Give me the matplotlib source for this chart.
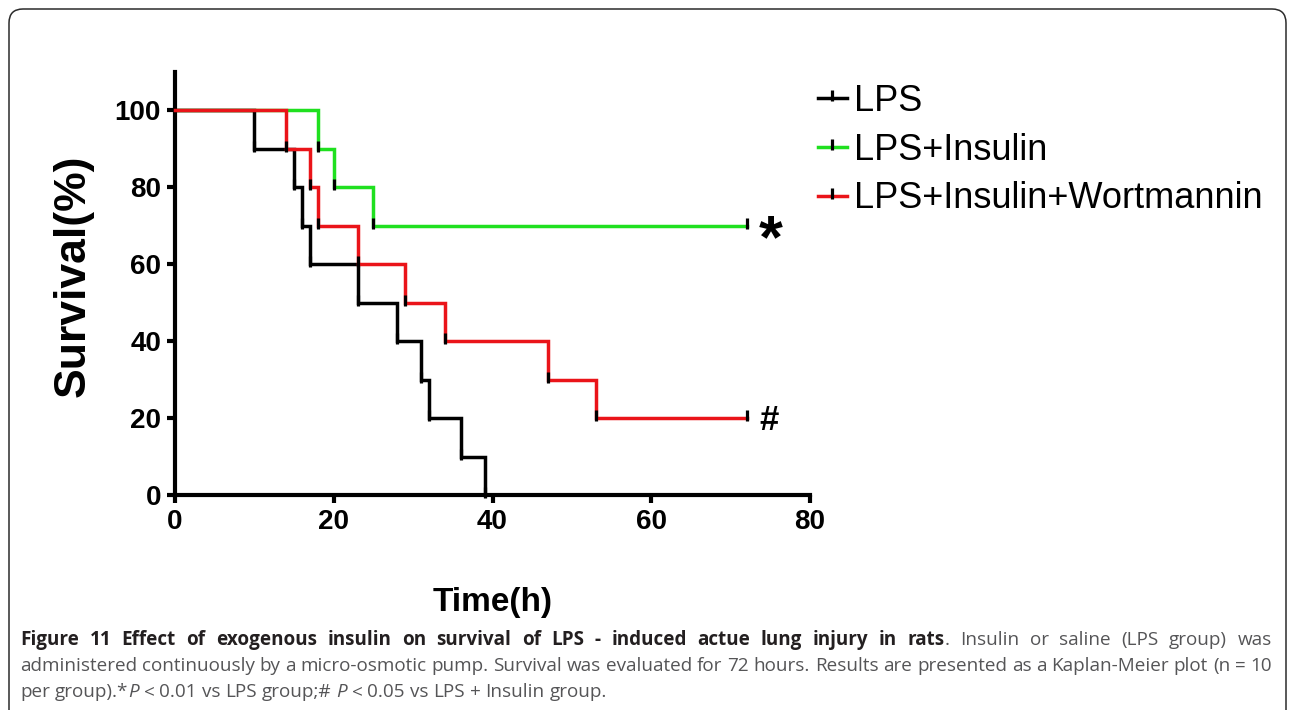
import matplotlib

matplotlib.use("Agg")
import matplotlib.pyplot as plt
from matplotlib.patches import FancyBboxPatch
from matplotlib.path import Path
from matplotlib.transforms import IdentityTransform

# Kaplan-Meier steps (time in h, survival in %)
lps_time = [0, 10, 15, 16, 17, 23, 28, 31, 32, 36, 39]
lps_surv = [100, 90, 80, 70, 60, 50, 40, 30, 20, 10, 0]
ins_time = [0, 18, 20, 25, 72]
ins_surv = [100, 90, 80, 70, 70]
wort_time = [0, 14, 17, 18, 23, 29, 34, 47, 53, 72]
wort_surv = [100, 90, 80, 70, 60, 50, 40, 30, 20, 20]

group_labels = ["LPS", "LPS+Insulin", "LPS+Insulin+Wortmannin"]
group_colors = ["black", "#1fe01f", "#ea1419"]
x_ticks = [0, 20, 40, 60, 80]
y_ticks = [0, 20, 40, 60, 80, 100]

# caption runs: (style, text); b = bold, r = regular, i = italic
caption_lines = [
    [("b", "Figure 11 Effect of exogenous insulin on survival of LPS - induced actue lung injury in rats"),
     ("r", ". Insulin or saline (LPS group) was")],
    [("r", "administered continuously by a micro-osmotic pump. Survival was evaluated for 72 hours. "
           "Results are presented as a Kaplan-Meier plot (n = 10")],
    [("r", "per group).*"), ("i", "P"), ("r", " < 0.01 vs LPS group;# "), ("i", "P"),
     ("r", " < 0.05 vs LPS + Insulin group.")],
]

W, H = 1290, 710
plt.rcParams["font.family"] = ["Liberation Sans", "DejaVu Sans"]

fig = plt.figure(figsize=(W / 100, H / 100), dpi=100)
fig.patch.set_facecolor("white")

# rounded frame around the whole figure (bottom edge runs off the image)
frame = FancyBboxPatch((9, -30), 1277, H - 9 + 30,
                       boxstyle="round,pad=0,rounding_size=14",
                       transform=IdentityTransform(), fill=False,
                       edgecolor="#2b2b2b", linewidth=1.1)
fig.patches.append(frame)

ax = fig.add_axes([175 / W, 1 - 495 / H, 635 / W, 423 / H])
ax.set_xlim(0, 80)
ax.set_ylim(0, 110)

# small vertical tick used by GraphPad for each event / censored point
tick = Path([(0, -0.35), (0, 1)], [Path.MOVETO, Path.LINETO])

series = [(lps_time, lps_surv), (ins_time, ins_surv), (wort_time, wort_surv)]
for (t, s), lab, col, z in zip(series, group_labels, group_colors, [3, 2, 4]):
    ax.step(t, s, where="post", color=col, lw=2.5, label=lab, zorder=z,
            marker=tick, markevery=slice(1, None), ms=12,
            mec="black", mfc="black", mew=2.3, clip_on=False,
            solid_joinstyle="miter")

for side in ["top", "right"]:
    ax.spines[side].set_visible(False)
for side in ["left", "bottom"]:
    ax.spines[side].set_linewidth(3)
ax.set_xticks(x_ticks)
ax.set_yticks(y_ticks)
ax.tick_params(direction="out", length=6, width=3, pad=4, labelsize=20)
for lbl in ax.get_xticklabels() + ax.get_yticklabels():
    lbl.set_fontweight("bold")

# significance marks at the end of the curves
ax.text(73.5, 61.8, "*", fontsize=44, fontweight="bold", ha="left", va="baseline")
ax.text(73.6, 16.9, "#", fontsize=25, fontweight="bold", ha="left", va="baseline")

fig.text(73 / W, 1 - 276 / H, "Survival(%)", rotation=90, fontsize=32,
         fontweight="bold", ha="center", va="center")
fig.text(493 / W, 1 - 603 / H, "Time(h)", fontsize=24, fontweight="bold",
         ha="center", va="center")

leg = ax.legend(loc="upper left", bbox_to_anchor=(818 / W, 1 - 84 / H),
                bbox_transform=fig.transFigure, frameon=False, fontsize=26,
                handlelength=0.8, handletextpad=0.2, labelspacing=0.38,
                borderpad=0, borderaxespad=0, numpoints=1)

# caption, justified like the journal layout
styles = {
    "b": dict(family="Open Sans", weight="bold", color="#231f20"),
    "r": dict(family="Open Sans", color="#555557"),
    "i": dict(family="Open Sans", style="italic", color="#555557"),
}
cap_size = 13.6
renderer = fig.canvas.get_renderer()


def split_words(runs):
    words, cur = [], []
    for style, text in runs:
        for i, part in enumerate(text.split(" ")):
            if i > 0 and cur:
                words.append(cur)
                cur = []
            if part:
                cur.append((style, part))
    if cur:
        words.append(cur)
    return words


def place_line(runs, baseline, x0, x1, justify):
    y = H - baseline
    words = []
    for word in split_words(runs):
        segs = []
        for style, txt in word:
            t = fig.text(0, y, txt, transform=IdentityTransform(), fontsize=cap_size,
                         ha="left", va="baseline", **styles[style])
            segs.append((t, t.get_window_extent(renderer).width))
        words.append(segs)
    widths = [sum(w for _, w in segs) for segs in words]
    if justify:
        gap = (x1 - x0 - sum(widths)) / (len(words) - 1)
    else:
        probe = fig.text(0, 0, "a a", fontsize=cap_size, **styles["r"])
        probe2 = fig.text(0, 0, "aa", fontsize=cap_size, **styles["r"])
        gap = probe.get_window_extent(renderer).width - probe2.get_window_extent(renderer).width
        probe.remove()
        probe2.remove()
    x = x0
    for segs, wd in zip(words, widths):
        xx = x
        for t, w in segs:
            t.set_x(xx)
            xx += w
        x += wd + gap


baselines = [645, 671, 697]
for k, (runs, b) in enumerate(zip(caption_lines, baselines)):
    place_line(runs, b, 20, 1272, justify=(k < len(caption_lines) - 1))

fig.savefig("out.png", dpi=100)
